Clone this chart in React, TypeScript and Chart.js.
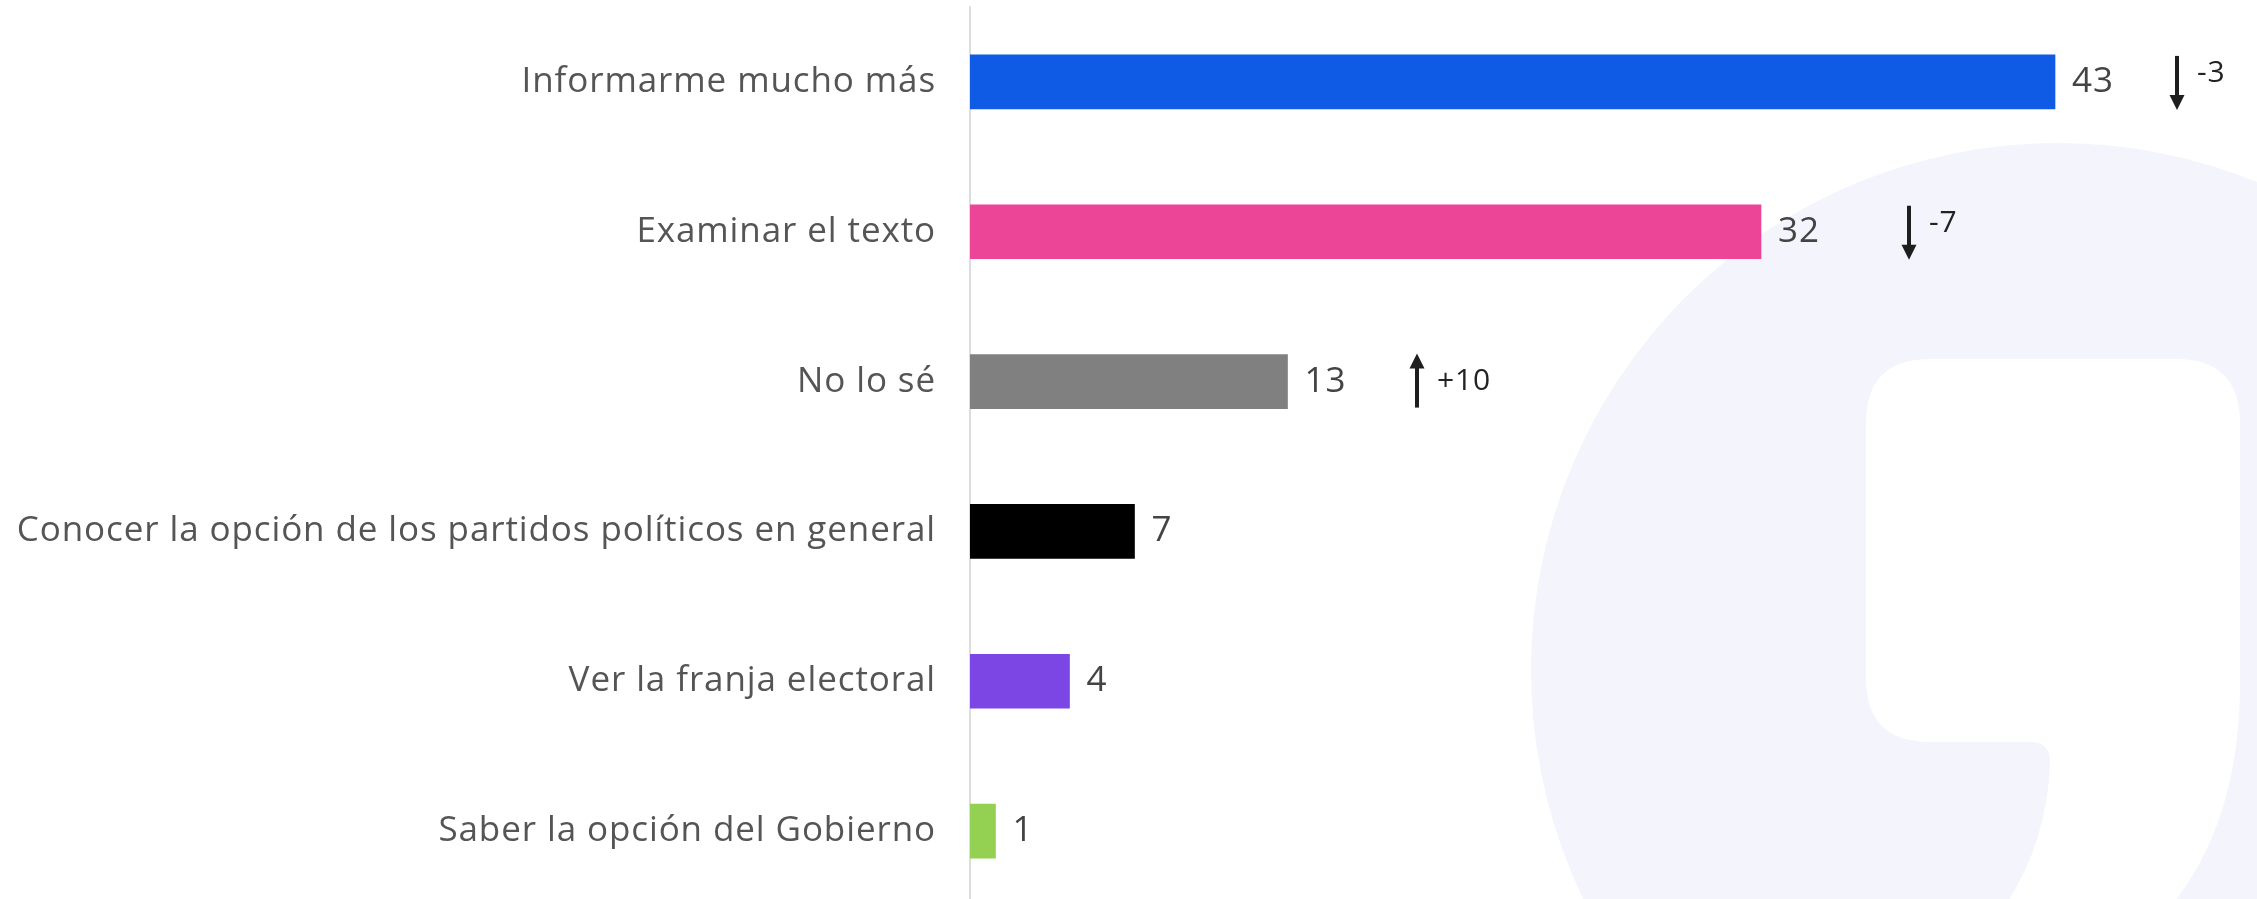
import React, { useEffect, useRef } from "react";
import { Chart, registerables } from "chart.js";

Chart.register(...registerables);

const categories = [
  "Informarme mucho más",
  "Examinar el texto",
  "No lo sé",
  "Conocer la opción de los partidos políticos en general",
  "Ver la franja electoral",
  "Saber la opción del Gobierno",
];
const values = [43.4, 31.64, 12.7, 6.58, 3.98, 1.02];
const valueLabels = ["43", "32", "13", "7", "4", "1"];
const barColors = ["#0F5BE5", "#EC4497", "#808080", "#000000", "#7B46E3", "#94D152"];
const changeLabels = ["-3", "-7", "+10", "", "", ""];
const changePositions = [48.28, 37.56, 17.88, 0, 0, 0];

const FONT = "'Open Sans'";

const watermarkPlugin = {
  id: "watermark",
  beforeDraw(chart: any) {
    const ctx = chart.ctx;
    ctx.save();
    ctx.fillStyle = "#ffffff";
    ctx.fillRect(0, 0, chart.width, chart.height);
    ctx.fillStyle = "#F3F4FC";
    ctx.beginPath();
    ctx.arc(2058, 670, 527, 0, Math.PI * 2);
    ctx.fill();
    ctx.fillStyle = "#ffffff";
    const l = 1866, t = 359, r = 2240, b = 742, rad = 64;
    ctx.beginPath();
    ctx.moveTo(l + rad, t);
    ctx.lineTo(r - rad, t);
    ctx.quadraticCurveTo(r, t, r, t + rad);
    ctx.lineTo(r, 693);
    ctx.quadraticCurveTo(2237, 825, 2171, 906);
    ctx.lineTo(2005, 906);
    ctx.quadraticCurveTo(2048, 840, 2050, 762);
    ctx.quadraticCurveTo(2050, b, 2030, b);
    ctx.lineTo(l + rad, b);
    ctx.quadraticCurveTo(l, b, l, b - rad);
    ctx.lineTo(l, t + rad);
    ctx.quadraticCurveTo(l, t, l + rad, t);
    ctx.closePath();
    ctx.fill();
    ctx.restore();
    ctx.letterSpacing = "0.9px";
  },
};

const labelsPlugin = {
  id: "valueLabels",
  afterDatasetsDraw(chart: any) {
    const ctx = chart.ctx;
    const meta = chart.getDatasetMeta(0);
    const xScale = chart.scales.x;
    ctx.save();
    meta.data.forEach((bar: any, i: number) => {
      const cy = bar.y;
      ctx.fillStyle = "#444444";
      ctx.font = `35px ${FONT}`;
      ctx.textAlign = "left";
      ctx.textBaseline = "middle";
      ctx.fillText(valueLabels[i], bar.x + 17, cy);

      const ch = changeLabels[i];
      if (ch) {
        const ax = Math.round(xScale.getPixelForValue(changePositions[i]));
        const up = ch.startsWith("+");
        ctx.fillStyle = "#1e1e1e";
        if (up) {
          const tip = cy - 28, bottom = cy + 26;
          ctx.fillRect(ax - 2, tip + 14, 4, bottom - tip - 14);
          ctx.beginPath();
          ctx.moveTo(ax, tip);
          ctx.lineTo(ax - 7.5, tip + 15);
          ctx.lineTo(ax + 7.5, tip + 15);
          ctx.closePath();
          ctx.fill();
        } else {
          const top = cy - 26, tip = cy + 28;
          ctx.fillRect(ax - 2, top, 4, tip - top - 14);
          ctx.beginPath();
          ctx.moveTo(ax, tip);
          ctx.lineTo(ax - 7.5, tip - 15);
          ctx.lineTo(ax + 7.5, tip - 15);
          ctx.closePath();
          ctx.fill();
        }
        ctx.fillStyle = "#222222";
        ctx.font = `30px ${FONT}`;
        ctx.textBaseline = "middle";
        ctx.fillText(ch, ax + 20, up ? cy : cy - 8);
      }
    });
    ctx.restore();
  },
};

export default function App() {
  const ref = useRef<HTMLCanvasElement | null>(null);
  useEffect(() => {
    if (!ref.current) return;
    const chart = new Chart(ref.current, {
      type: "bar",
      data: {
        labels: categories,
        datasets: [
          {
            data: values,
            backgroundColor: barColors,
            barThickness: 54,
            borderWidth: 0,
          },
        ],
      },
      options: {
        indexAxis: "y",
        responsive: false,
        animation: false,
        devicePixelRatio: 1,
        layout: { padding: { top: 7, right: 37, left: 0, bottom: 0 } },
        plugins: {
          legend: { display: false },
          tooltip: { enabled: false },
        },
        scales: {
          x: {
            display: false,
            min: 0,
            max: 50,
          },
          y: {
            grid: { display: false, drawTicks: false },
            border: { display: true, color: "#DDDDDD", width: 2 },
            ticks: {
              color: "#555555",
              font: { family: FONT, size: 35 },
              padding: 34,
            },
            afterFit(scale: any) {
              scale.width = 970;
              scale.paddingTop = 0;
              scale.paddingBottom = 0;
            },
          },
        },
      },
      plugins: [watermarkPlugin, labelsPlugin],
    });
    return () => chart.destroy();
  }, []);
  return (
    <div
      style={{
        position: "fixed",
        left: 0,
        top: 0,
        width: 2257,
        height: 899,
        overflow: "hidden",
        background: "#fff",
      }}
    >
      <canvas ref={ref} width={2257} height={906} style={{ display: "block" }} />
    </div>
  );
}
